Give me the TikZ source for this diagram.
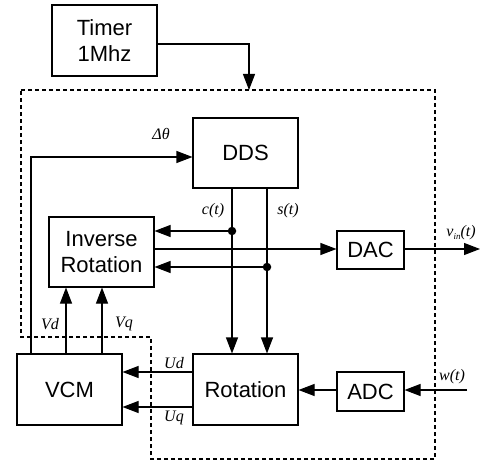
\documentclass[tikz,border=0pt]{standalone}
\usepackage{fontspec}
\setmainfont{Liberation Sans}
\newfontfamily\lbl{Liberation Serif}
\usetikzlibrary{arrows.meta}
\begin{document}
\begin{tikzpicture}[x=1pt,y=-1pt,
  blk/.style={draw,line width=1.1pt,inner sep=0pt,align=center,font=\fontsize{22}{26}\selectfont},
  wire/.style={line width=1.1pt},
  arr/.style={wire,-{Triangle[length=16pt,width=12pt]}},
  sig/.style={font=\lbl\itshape\fontsize{16}{18}\selectfont},
  dot/.style={circle,fill,inner sep=0pt,minimum size=8.5pt},
  boundary/.style={line width=1.2pt,dash pattern=on 4pt off 3pt}]
\useasboundingbox (0,0) rectangle (481,462);
% boxes
\node[blk,minimum width=105pt,minimum height=71pt] (timer) at (104.5,40.5) {Timer\\1Mhz};
\node[blk,minimum width=105pt,minimum height=70pt] (dds) at (245.5,153) {DDS};
\node[blk,minimum width=105pt,minimum height=70pt] (inv) at (101.5,252) {Inverse\\Rotation};
\node[blk,minimum width=67pt,minimum height=38pt] (dac) at (370.5,250) {DAC};
\node[blk,minimum width=105pt,minimum height=71pt] (vcm) at (69.5,389.5) {VCM};
\node[blk,minimum width=105pt,minimum height=71pt] (rot) at (245.5,389.5) {Rotation};
\node[blk,minimum width=67pt,minimum height=39pt] (adc) at (370.5,391.5) {ADC};
% dashed boundary
\draw[boundary] (21,90) -- (435,90) -- (435,459) -- (151,459) -- (151,337) -- (21,337) -- cycle;
% timer to box
\coordinate (tin) at (249,90);
\draw[arr] (timer.east |- 0,44) -| (tin);
% delta theta feedback
\draw[arr] ([xshift=-38.5pt]vcm.north) |- (dds.west |- 0,157);
\node[sig] (dth) at (161,134) {Δθ};
% c(t), s(t)
\draw[arr] (dds.south -| 232,0) -- (rot.north -| 232,0);
\draw[arr] (dds.south -| 267,0) -- (rot.north -| 267,0);
\node[sig] (ct) at (213,211) {c(t)};
\node[sig] (st) at (288,211) {s(t)};
\node[dot] (d1) at (232,231) {};
\node[dot] (d2) at (267,267) {};
\draw[arr] (d1) -- (inv.east |- d1);
\draw[arr] (d2) -- (inv.east |- d2);
% to DAC
\draw[arr] (inv.east |- 0,249) -- (dac.west |- 0,249);
\coordinate (vout) at (480,249);
\draw[arr] (dac.east |- vout) -- (vout);
\node[sig] (vin) at (461,233) {v\raisebox{-3pt}{\fontsize{9}{10}\selectfont in}(t)};
% Vd, Vq
\draw[arr] (vcm.north -| 66,0) -- (inv.south -| 66,0);
\draw[arr] (vcm.north -| 102,0) -- (inv.south -| 102,0);
\node[sig] (vd) at (50,324) {Vd};
\node[sig] (vq) at (124,324) {Vq};
% Ud, Uq
\draw[arr] (rot.west |- 0,372) -- (vcm.east |- 0,372);
\draw[arr] (rot.west |- 0,407) -- (vcm.east |- 0,407);
\node[sig] (ud) at (174,363) {Ud};
\node[sig] (uq) at (174,418) {Uq};
% ADC
\draw[arr] (adc.west |- 0,390) -- (rot.east |- 0,390);
\coordinate (win) at (467,390);
\draw[arr] (win) -- (adc.east |- win);
\node[sig] (wt) at (452,377) {w(t)};
\end{tikzpicture}
\end{document}
